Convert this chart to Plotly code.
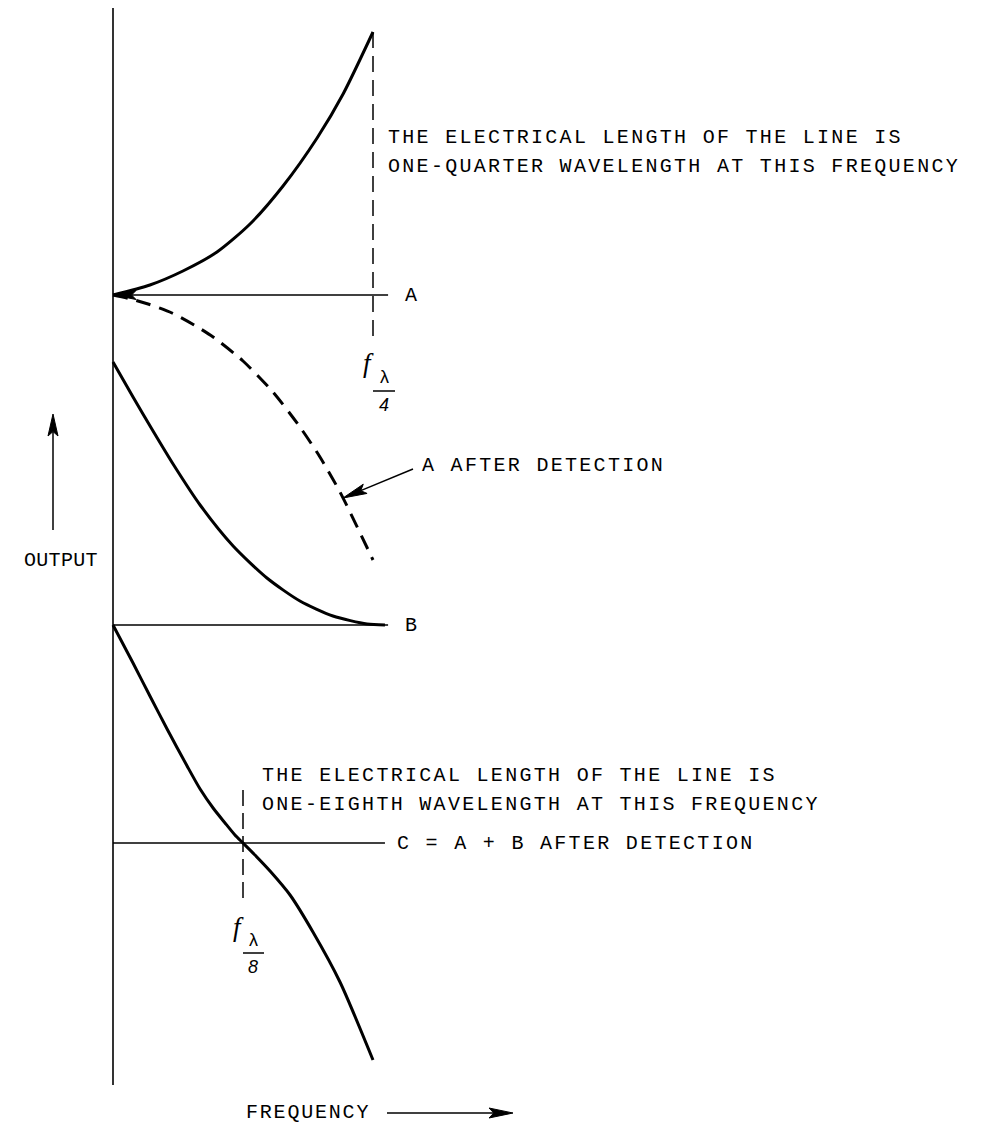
import math
import plotly.graph_objects as go

# ---------------- data (frequency in units of f_lambda/4, output in arbitrary units) -------------
freq_A = [0.0, 0.142, 0.269, 0.40, 0.527, 0.654, 0.785, 0.885, 1.0]
out_A = [8.05, 8.15, 8.29, 8.48, 8.76, 9.14, 9.62, 10.06, 10.68]

freq_A_det = [0.0, 0.069, 0.135, 0.227, 0.312, 0.385, 0.50, 0.615, 0.719, 0.796, 0.873, 1.0]
out_A_det = [8.05, 8.01, 7.96, 7.87, 7.75, 7.63, 7.39, 7.08, 6.73, 6.43, 6.08, 5.40]

freq_B = [0.0, 0.077, 0.154, 0.231, 0.335, 0.462, 0.592, 0.719, 0.846, 0.977, 1.046]
out_B = [7.38, 7.03, 6.69, 6.36, 5.95, 5.54, 5.22, 4.99, 4.84, 4.76, 4.75]

freq_C = [0.0, 0.077, 0.142, 0.208, 0.285, 0.335, 0.385, 0.431, 0.469, 0.50,
          0.546, 0.604, 0.681, 0.769, 0.873, 1.0]
out_C = [4.75, 4.37, 4.04, 3.71, 3.34, 3.11, 2.92, 2.77, 2.65, 2.57,
         2.45, 2.29, 2.05, 1.68, 1.18, 0.40]

level_A = 8.05
level_B = 4.75
level_C = 2.57
f_quarter = 1.0
f_eighth = 0.5
line_end = [1.058, 1.058, 1.046]  # extent of reference lines A, B, C

# ---------------- layout helpers (pixel position -> axis units) ----------------
W, H = 982, 1129
X0PX, XSCALE = 113.0, 260.0
Y0PX, YSCALE = 1100.0, 100.0


def fx(px):
    return (px - X0PX) / XSCALE


def oy(py):
    return (Y0PX - py) / YSCALE


def to_px(f, o):
    return (X0PX + f * XSCALE, Y0PX - o * YSCALE)


INK = "black"
FONT = "Liberation Mono"
SPL = dict(shape="spline", smoothing=0.7)

fig = go.Figure()

# curves
fig.add_trace(go.Scatter(x=freq_A, y=out_A, mode="lines",
                         line=dict(color=INK, width=3, **SPL)))
fig.add_trace(go.Scatter(x=freq_A_det, y=out_A_det, mode="lines",
                         line=dict(color=INK, width=3, dash="15px,9px", **SPL)))
fig.add_trace(go.Scatter(x=freq_B, y=out_B, mode="lines",
                         line=dict(color=INK, width=3, **SPL)))
fig.add_trace(go.Scatter(x=freq_C, y=out_C, mode="lines",
                         line=dict(color=INK, width=3, **SPL)))

# reference lines B and C
fig.add_trace(go.Scatter(x=[0, line_end[1]], y=[level_B, level_B], mode="lines",
                         line=dict(color=INK, width=1.6)))
fig.add_trace(go.Scatter(x=[0, line_end[2]], y=[level_C, level_C], mode="lines",
                         line=dict(color=INK, width=1.6)))

# vertical axis
fig.add_trace(go.Scatter(x=[0, 0], y=[oy(8), oy(1085)], mode="lines",
                         line=dict(color=INK, width=1.6)))

# dashed frequency markers
fig.add_trace(go.Scatter(x=[f_quarter, f_quarter], y=[out_A[-1], oy(340)], mode="lines",
                         line=dict(color=INK, width=1.5, dash="16px,8px")))
fig.add_trace(go.Scatter(x=[f_eighth, f_eighth], y=[oy(790), oy(905)], mode="lines",
                         line=dict(color=INK, width=1.5, dash="16px,7px")))

shapes = []


def arrow(tail, tip, L, Wd, lw):
    """tail, tip in pixel positions; draws shaft + narrow filled head."""
    dx, dy = tip[0] - tail[0], tip[1] - tail[1]
    n = math.hypot(dx, dy)
    ux, uy = dx / n, dy / n
    bx, by = tip[0] - ux * L * 0.8, tip[1] - uy * L * 0.8
    hx, hy = tip[0] - ux * L, tip[1] - uy * L
    p1 = (hx - uy * Wd / 2, hy + ux * Wd / 2)
    p2 = (hx + uy * Wd / 2, hy - ux * Wd / 2)
    shapes.append(dict(type="line", xref="x", yref="y",
                       x0=fx(tail[0]), y0=oy(tail[1]), x1=fx(bx), y1=oy(by),
                       line=dict(color=INK, width=lw)))
    path = "M{},{} L{},{} L{},{} L{},{} Z".format(
        fx(tip[0]), oy(tip[1]), fx(p1[0]), oy(p1[1]),
        fx(bx), oy(by), fx(p2[0]), oy(p2[1]))
    shapes.append(dict(type="path", xref="x", yref="y", path=path,
                       fillcolor=INK, line=dict(color=INK, width=1)))


# line A with arrow head at the axis
a_tail = to_px(line_end[0], level_A)
a_tip = to_px(0, level_A)
arrow(a_tail, (a_tip[0] + 1, a_tip[1]), 22, 9, 1.6)
# OUTPUT arrow
arrow((53, 530), (53, 414), 22, 10, 1.5)
# FREQUENCY arrow
arrow((387, 1113), (513, 1113), 24, 10, 1.5)
# A AFTER DETECTION pointer
arrow((413, 469), (343, 498), 24, 10, 1.5)

# fraction bars
for (x0, x1, y) in [(373, 395, 391), (243, 264, 953)]:
    shapes.append(dict(type="line", xref="x", yref="y", x0=fx(x0), x1=fx(x1), y0=oy(y), y1=oy(y),
                       line=dict(color=INK, width=1.5)))

annotations = []


def text(s, xpx, ypx, anchor="left", size=20, ls=2.3, font=FONT):
    annotations.append(dict(
        x=fx(xpx), y=oy(ypx), xref="x", yref="y", showarrow=False,
        xanchor=anchor, yanchor="middle",
        text='<span style="letter-spacing:{}px">{}</span>'.format(ls, s) if ls else s,
        font=dict(family=font, size=size, color=INK)))


text("THE ELECTRICAL LENGTH OF THE LINE IS", 386, 137)
text("ONE-QUARTER WAVELENGTH AT THIS FREQUENCY", 386, 166)
text("A", 403, 295)
text("A AFTER DETECTION", 420, 465)
text("OUTPUT", 61, 560, anchor="center", ls=0.3)
text("B", 403, 625)
text("THE ELECTRICAL LENGTH OF THE LINE IS", 260, 775)
text("ONE-EIGHTH WAVELENGTH AT THIS FREQUENCY", 260, 804)
text("C = A + B AFTER DETECTION", 395, 843)
text("FREQUENCY", 244, 1112, ls=1.8)

# f_lambda/4 label
text("<i>f</i>", 368, 363, anchor="center", size=27, ls=0, font="Liberation Serif")
text("λ", 384, 377, anchor="center", size=18, ls=0, font="Liberation Sans")
text("<i>4</i>", 384, 405, anchor="center", size=18, ls=0, font="Liberation Sans")
# f_lambda/8 label
text("<i>f</i>", 238, 927, anchor="center", size=27, ls=0, font="Liberation Serif")
text("λ", 253, 940, anchor="center", size=18, ls=0, font="Liberation Sans")
text("<i>8</i>", 253, 967, anchor="center", size=18, ls=0, font="Liberation Sans")

fig.update_layout(
    width=W, height=H,
    margin=dict(l=0, r=0, t=0, b=0),
    paper_bgcolor="white", plot_bgcolor="white",
    showlegend=False,
    xaxis=dict(visible=False, range=[fx(0), fx(W)], fixedrange=True),
    yaxis=dict(visible=False, range=[oy(H), oy(0)], fixedrange=True),
    shapes=shapes,
    annotations=annotations,
)

fig.write_html("out.html",
               config={"displayModeBar": False},
               post_script="document.body.style.margin='0';document.body.style.overflow='hidden';")
